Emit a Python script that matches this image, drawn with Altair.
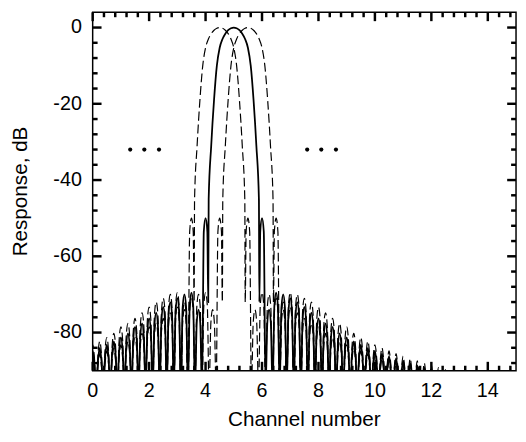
import altair as alt
import pandas as pd

# ---------------- values ----------------
channel_centre = [4.5, 5.0, 5.5]
channel_style = ["dashed", "solid", "dashed"]

main_lobe_offset = [0.0, 0.1, 0.2, 0.3, 0.4, 0.5, 0.6, 0.7, 0.8, 0.89, 0.905]
main_lobe_db = [0.0, -0.2, -0.7, -1.6, -3.0, -5.3, -10.0, -19.0, -31.0, -45.0, -72.0]

sidelobe_offset = [1.00, 1.25, 1.50, 1.75, 2.00, 2.25, 2.50, 2.75, 3.00, 3.25,
                   3.50, 3.75, 4.00, 4.25, 4.50, 4.75, 5.00, 5.25, 5.50, 5.75,
                   6.00, 6.25, 6.50, 6.75, 7.00, 7.25]
sidelobe_db = [-50.0, -74.0, -69.5, -70.0, -71.0, -72.0, -73.3, -74.8, -76.3, -77.6,
               -78.5, -80.2, -81.3, -82.3, -83.2, -84.0, -84.8, -85.5, -86.2, -86.8,
               -87.4, -88.0, -88.6, -89.2, -89.7, -90.3]
shoulder_db = [-53.5, -77.5, -73.0, -73.5, -74.5, -75.5, -76.8, -78.3, -79.8, -81.1,
               -82.0, -83.7, -84.8, -85.8, -86.7, -87.5, -88.3, -89.0, -89.7, -90.3,
               -90.9, -91.5, -92.1, -92.7, -93.2, -93.8]
shoulder_gap = 0.0625
null_offset = [1.125, 1.375, 1.625, 1.875, 2.125, 2.375, 2.625, 2.875, 3.125, 3.375,
               3.625, 3.875, 4.125, 4.375, 4.625, 4.875, 5.125, 5.375, 5.625, 5.875,
               6.125, 6.375, 6.625, 6.875, 7.125, 7.375]
null_db = [-95.0] * len(null_offset)

dot_channel = [1.33, 1.83, 2.35, 7.60, 8.10, 8.62]
dot_db = [-32.0, -32.0, -32.0, -32.0, -32.0, -32.0]

x_major = [0, 2, 4, 6, 8, 10, 12, 14]
x_minor = [0.4, 0.8, 1.2, 1.6, 2.4, 2.8, 3.2, 3.6, 4.4, 4.8, 5.2, 5.6, 6.4, 6.8, 7.2, 7.6,
           8.4, 8.8, 9.2, 9.6, 10.4, 10.8, 11.2, 11.6, 12.4, 12.8, 13.2, 13.6, 14.4, 14.8]
y_major = [0, -20, -40, -60, -80]
y_minor = [-4, -8, -12, -16, -24, -28, -32, -36, -44, -48, -52, -56,
           -64, -68, -72, -76, -84, -88]
x_labels = ["0", "2", "4", "6", "8", "10", "12", "14"]
y_labels = ["0", "-20", "-40", "-60", "-80"]
x_title = "Channel number"
y_title = "Response, dB"

X_DOMAIN = [0, 15]
Y_DOMAIN = [-90, 4]
W, H = 430, 364
MAJOR_PX, MINOR_PX = 9, 5

# ---------------- build the tables ----------------
profile = list(zip(main_lobe_offset, main_lobe_db))
for po, pv, sv, no, nv in zip(sidelobe_offset, sidelobe_db, shoulder_db,
                              null_offset, null_db):
    profile.append((po - shoulder_gap, sv))
    profile.append((po, pv))
    profile.append((po + shoulder_gap, sv))
    profile.append((no, nv))

rows = []
for k, (c, st) in enumerate(zip(channel_centre, channel_style)):
    for d, v in reversed(profile):
        if d > 0:
            rows.append({"channel": c - d, "db": v, "curve": k, "style": st})
    for d, v in profile:
        rows.append({"channel": c + d, "db": v, "curve": k, "style": st})
df = pd.DataFrame(rows)
dots = pd.DataFrame({"channel": dot_channel, "db": dot_db})

FONT = "Liberation Sans"
xs = alt.Scale(domain=X_DOMAIN, nice=False, zero=False)
ys = alt.Scale(domain=Y_DOMAIN, nice=False, zero=False)
X = alt.X("channel:Q", scale=xs, axis=None)
Y = alt.Y("db:Q", scale=ys, axis=None)

solid = alt.Chart(df[df["style"] == "solid"]).mark_line(
    color="black", strokeWidth=1.8, interpolate="monotone", clip=True
).encode(x=X, y=Y)

dashed = alt.Chart(df[df["style"] == "dashed"]).mark_line(
    color="black", strokeWidth=1.2, strokeDash=[9, 4],
    interpolate="monotone", clip=True
).encode(x=X, y=Y, detail="curve:N")

dot_layer = alt.Chart(dots).mark_circle(size=18, color="black", opacity=1).encode(
    x=X, y=Y)

xlab = alt.Chart(pd.DataFrame({"channel": x_major, "label": x_labels})).mark_text(
    font=FONT, fontSize=20, color="black", align="center", baseline="middle"
).encode(x=X, y=alt.value(H + 21), text="label:N")

ylab = alt.Chart(pd.DataFrame({"db": y_major, "label": y_labels})).mark_text(
    font=FONT, fontSize=20, color="black", align="right", baseline="middle"
).encode(y=Y, x=alt.value(-11), text="label:N")

xtit = alt.Chart(pd.DataFrame({"t": [x_title]})).mark_text(
    font=FONT, fontSize=21, color="black", align="center", baseline="middle"
).encode(x=alt.value(W / 2), y=alt.value(H + 50), text="t:N")

ytit = alt.Chart(pd.DataFrame({"t": [y_title]})).mark_text(
    font=FONT, fontSize=21, color="black", align="center", baseline="middle",
    angle=270
).encode(x=alt.value(-73), y=alt.value(H / 2), text="t:N")


def xtick_layer(values, y0, y1):
    return alt.Chart(pd.DataFrame({"channel": values})).mark_rule(
        color="black", strokeWidth=2.5
    ).encode(x=X, y=alt.value(y0), y2=alt.value(y1))


def ytick_layer(values, x0, x1):
    return alt.Chart(pd.DataFrame({"db": values})).mark_rule(
        color="black", strokeWidth=2.5
    ).encode(y=Y, x=alt.value(x0), x2=alt.value(x1))


ticks = [
    xtick_layer(x_major, H, H - MAJOR_PX), xtick_layer(x_minor, H, H - MINOR_PX),
    xtick_layer(x_major, 0, MAJOR_PX), xtick_layer(x_minor, 0, MINOR_PX),
    ytick_layer(y_major, 0, MAJOR_PX), ytick_layer(y_minor, 0, MINOR_PX),
    ytick_layer(y_major, W, W - MAJOR_PX), ytick_layer(y_minor, W, W - MINOR_PX),
]

chart = alt.layer(solid, dashed, dot_layer, xlab, ylab, xtit, ytit, *ticks).properties(
    width=W, height=H,
    autosize=alt.AutoSizeParams(type="none"),
    padding={"left": 86, "top": 1, "right": 2, "bottom": 64},
    background="white",
).configure_view(stroke="black", strokeWidth=1.5)

chart.save("out.html", embed_options={"renderer": "svg", "actions": False})
